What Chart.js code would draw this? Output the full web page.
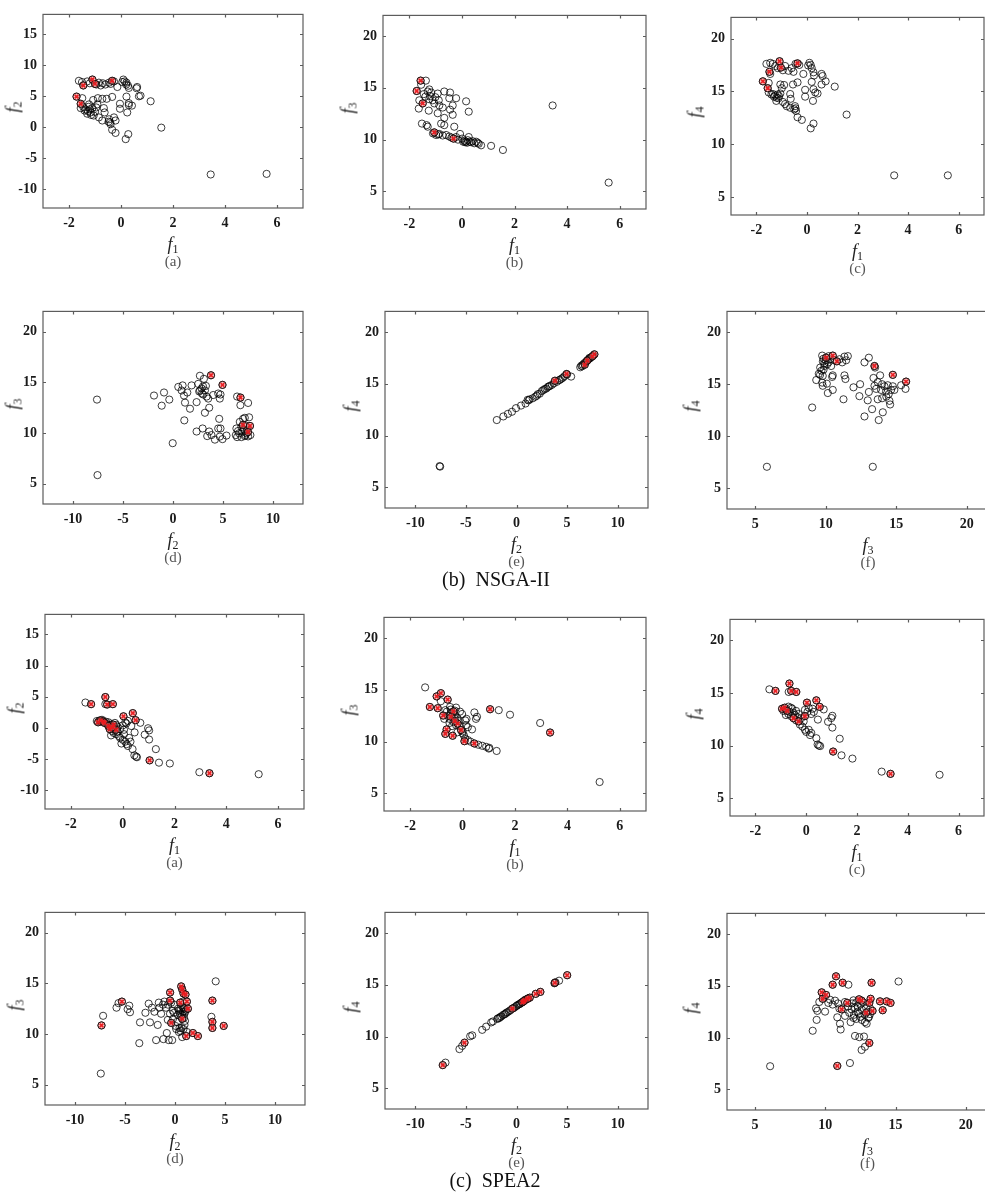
<!DOCTYPE html>
<html>
<head>
<meta charset="utf-8">
<script src="https://cdn.jsdelivr.net/npm/chart.js@4.4.1/dist/chart.umd.min.js"></script>
<style>
  body { margin: 0; background: #fff; width: 985px; height: 1197px; overflow: hidden; position: relative; }
  canvas { position: absolute; }
  .lab { position: absolute; transform: translate(-50%, -50%); white-space: nowrap; font-family: 'Liberation Serif', serif; }
  .ax { font-size: 18px; font-style: italic; color: #222; }
  .ax sub { font-style: normal; font-size: 12px; vertical-align: -3px; }
  .rot { transform: translate(-50%, -50%) rotate(-90deg); }
  .cap { font-size: 15px; color: #555; }
  .big { font-size: 20px; color: #111; }
</style>
</head>
<body>
<script>
// tick labels
const ticksF1 = [-2, 0, 2, 4, 6];
const ticksF2x = [-10, -5, 0, 5, 10];
const ticksF2y = [-10, -5, 0, 5, 10, 15];
const ticksF34 = [5, 10, 15, 20];

// NSGA-II
const nsga_f1f2 = [[-1.62,7.5],[-1.45,6.75],[-1.3,7.4],[-1.1,7.7],[-1.0,7.0],[-0.85,7.2],[-0.78,6.75],[-0.6,6.9],[-0.46,7.2],[-0.34,7.5],[-0.27,7.4],[-0.14,6.5],[0.09,7.7],[0.14,7.4],[0.21,7.2],[0.27,6.7],[0.3,6.35],[0.62,6.5],[0.6,6.3],[0.69,5.0],[0.75,5.1],[-1.5,7.3],[-1.2,7.1],[-0.95,6.9],[-0.7,7.1],[-0.4,7.0],[0.05,7.3],[0.2,6.9],
  [-1.71,4.95],[-1.49,4.7],[-1.55,3.8],[-1.55,3.1],[-1.36,2.9],[-1.27,2.6],[-1.17,2.4],[-1.1,3.1],[-1.23,3.7],[-1.07,4.4],[-0.89,4.7],[-0.72,4.6],[-0.55,4.6],[-0.34,4.9],[-0.91,3.7],[-0.66,3.1],[-0.63,2.4],[-0.85,1.6],[-0.72,1.1],[-0.46,1.3],[-0.42,0.8],[-0.4,0.5],[-0.34,-0.4],[-0.21,-0.9],[-0.27,1.6],[-0.21,1.1],[-0.04,3.8],[-0.04,3.0],[0.21,4.95],[0.3,3.9],[0.24,2.4],[0.3,3.6],[0.42,3.5],[0.18,-1.9],[0.28,-1.1],[1.14,4.2],[1.55,-0.05],[3.45,-7.6],[5.6,-7.5],
  [-1.4,2.7],[-1.3,2.2],[-1.2,2.9],[-1.15,2.0],[-1.0,2.5],[-1.05,1.9],[-1.25,3.3],[-0.95,3.2],[-0.48,0.9],[-1.45,3.3]];
const nsga_f1f2_red = [[-1.71,4.95],[-1.55,3.8],[-1.45,6.75],[-1.1,7.7],[-1.0,7.0],[-0.34,7.5]];

const nsga_f1f3 = [[-1.57,15.7],[-1.72,14.7],[-1.37,15.7],[-1.64,13.0],[-1.62,13.8],[-1.49,13.5],[-1.39,14.15],[-1.3,14.65],[-1.24,14.85],[-1.17,14.55],[-1.24,13.9],[-1.11,13.8],[-1.26,12.8],[-1.05,13.5],[-1.01,14.1],[-0.92,14.45],[-0.67,14.65],[-0.88,13.8],[-0.86,13.3],[-0.73,13.1],[-0.67,12.1],[-0.92,12.55],[-0.45,14.55],[-0.48,14.0],[-0.45,12.9],[-0.35,13.3],[-0.35,12.4],[-0.22,14.0],[0.16,13.7],[0.26,12.7],[-0.29,11.25],[-0.67,11.4],[-1.52,11.55],[-1.34,11.4],[-1.3,11.25],[-0.79,11.55],[-1.55,15.3],[-1.45,14.4],[-1.2,14.2],
  [-1.05,10.7],[-0.98,10.45],[-0.86,10.55],[-0.73,10.4],[-0.6,10.45],[-0.48,10.3],[-0.32,10.1],[-0.22,10.25],[-0.07,10.55],[0.01,10.1],[0.1,9.9],[0.16,9.8],[0.22,9.95],[0.29,9.8],[0.26,10.25],[0.41,9.85],[0.54,9.8],[0.64,9.6],[0.73,9.45],[1.11,9.4],[1.56,9.0],[3.45,13.3],[5.58,5.85],
  [-1.1,10.6],[-0.9,10.5],[-0.4,10.2],[0.05,9.8],[0.12,9.75],[0.2,9.7],[0.35,9.75],[0.6,9.7],[-0.15,10.0],[0.47,9.65]];
const nsga_f1f3_red = [[-1.57,15.7],[-1.72,14.7],[-1.49,13.5],[-1.05,10.7],[-0.32,10.1]];

const nsga_f1f4 = [[-1.6,17.6],[-1.45,17.7],[-1.25,17.4],[-1.08,17.85],[-1.03,17.25],[-1.45,16.65],[-1.48,16.85],[-0.86,17.4],[-0.73,16.95],[-0.6,17.2],[-0.53,16.85],[-0.37,17.65],[-0.3,17.5],[-0.14,16.65],[0.1,17.7],[0.15,17.5],[0.19,17.2],[0.26,16.8],[0.28,16.5],[0.58,16.65],[0.62,16.45],[0.74,15.95],[-1.35,17.6],[-1.15,17.2],[-0.95,17.0],[-0.45,17.6],[0.05,17.45],
  [-1.74,15.95],[-1.51,15.8],[-1.55,15.3],[-1.51,14.9],[-1.34,14.75],[-1.25,14.6],[-1.16,14.7],[-1.12,14.35],[-1.21,14.1],[-1.05,14.8],[-0.99,15.3],[-1.05,15.65],[-0.9,15.6],[-0.66,14.75],[-0.64,14.3],[-0.86,13.8],[-0.66,13.45],[-0.47,13.6],[-0.43,13.15],[-0.37,12.55],[-0.2,12.3],[-0.37,15.85],[-0.55,15.65],[-0.07,15.15],[-0.07,14.5],[0.19,15.9],[0.26,15.2],[0.33,14.9],[0.24,14.1],[0.42,14.8],[0.58,15.65],[0.15,11.5],[0.26,11.95],[1.1,15.45],[1.57,12.8],[3.45,7.05],[5.57,7.05],
  [-1.3,14.5],[-1.2,14.4],[-1.1,14.55],[-0.95,14.0],[-0.8,13.6],[-0.45,13.4],[-0.5,13.3],[-1.4,14.7]];
const nsga_f1f4_red = [[-1.74,15.95],[-1.55,15.3],[-1.48,16.85],[-1.08,17.85],[-1.03,17.25],[-0.37,17.65]];

const nsga_f2f3 = [[-7.6,13.3],[-7.55,5.85],[-1.9,13.7],[-1.13,12.7],[-0.9,14.0],[-0.37,13.3],[-0.03,9.0],[0.53,14.55],[0.96,14.7],[1.1,13.7],[0.86,14.2],[1.43,14.0],[1.2,13.0],[1.13,11.25],[1.7,12.4],[1.86,14.7],[2.36,13.05],[2.52,14.85],[2.69,15.65],[2.62,14.1],[2.86,14.4],[3.02,13.8],[3.19,14.2],[3.29,14.65],[3.09,15.35],[3.36,13.6],[3.52,13.4],[3.62,12.5],[3.19,12.0],[3.8,15.7],[4.02,13.75],[4.52,13.9],[4.75,13.8],[4.95,14.75],[4.68,13.4],[2.36,10.15],[2.96,10.45],[3.62,10.15],[3.85,9.8],[3.42,9.7],[4.19,9.35],[4.52,10.45],[4.75,10.45],[4.62,11.4],[4.68,9.65],[4.95,9.4],[5.35,9.75],[6.41,13.6],[6.75,13.5],[6.74,12.75],[7.51,12.97],[6.34,10.45],[6.28,9.8],[6.41,9.6],[6.68,11.1],[6.84,10.6],[6.94,10.15],[7.01,11.4],[7.18,11.5],[7.28,10.75],[7.34,9.98],[7.51,9.67],[7.61,11.55],[7.7,10.7],[7.74,9.8],[6.61,9.98],[6.84,9.6],[7.18,9.7],[7.41,10.35],[7.0,10.8],[7.5,10.1],[6.5,10.2],[7.1,10.3],[7.25,9.8],[2.7,14.2],[2.9,13.9],[3.0,14.6]];
const nsga_f2f3_red = [[4.95,14.75],[3.8,15.7],[6.75,13.5],[7.7,10.7],[7.0,10.8],[7.5,10.1]];

const nsga_f2f4 = [[-7.6,7.05],[-7.55,7.0],[-1.95,11.5],[-1.3,11.85],[-0.85,12.1],[-0.45,12.3],[-0.05,12.65],[0.45,12.9],[0.9,13.1],[1.1,13.45],[1.3,13.5],[1.6,13.6],[1.85,13.75],[2.1,14.0],[2.3,14.05],[2.5,14.3],[2.65,14.4],[2.8,14.5],[2.95,14.55],[3.1,14.7],[3.3,14.8],[3.5,14.9],[3.7,15.05],[3.8,15.3],[4.0,15.2],[4.2,15.35],[4.45,15.5],[4.6,15.6],[4.75,15.75],[4.95,15.95],[5.0,15.9],[5.4,15.7],[6.3,16.6],[6.4,16.75],[6.55,16.85],[6.75,16.85],[6.7,17.0],[6.85,17.1],[6.95,17.2],[7.0,17.25],[7.1,17.35],[7.25,17.45],[7.35,17.55],[7.5,17.65],[7.6,17.75],[7.7,17.85],[6.5,16.7],[7.2,17.5],[1.2,13.4],[2.0,13.85],[3.2,14.75],[4.3,15.4]];
const nsga_f2f4_red = [[4.95,15.95],[3.8,15.3],[6.75,16.85],[7.7,17.85],[7.0,17.25],[7.5,17.65]];

const nsga_f3f4 = [[5.83,7.06],[9.04,12.76],[13.34,7.06],
  [9.75,17.75],[9.84,17.45],[10.03,17.55],[10.22,17.7],[10.5,17.75],[10.79,17.2],[10.98,17.4],[11.17,17.1],[11.33,17.65],[11.57,17.7],[11.45,17.3],[9.61,16.6],[9.91,16.75],[10.39,16.75],[9.51,16.0],[9.79,15.8],[9.33,15.4],[9.75,15.15],[9.79,14.85],[10.08,15.05],[10.15,14.15],[10.5,14.45],[10.46,15.7],[10.5,15.85],[11.33,15.85],[11.4,15.5],[11.26,13.55],
  [9.8,17.2],[9.9,17.0],[10.0,17.3],[10.1,16.9],[10.3,17.4],[10.6,17.3],[9.7,16.3],[9.6,15.9],[9.85,16.4],[10.2,17.1],
  [11.97,14.7],[12.44,15.0],[12.39,13.85],[12.75,17.1],[13.06,17.55],[12.98,13.45],[13.06,14.25],[12.75,11.9],[13.29,12.6],[13.46,16.75],[13.39,15.6],[13.46,14.85],[13.58,14.55],[13.69,15.2],[13.69,13.55],[13.76,11.55],[13.86,15.85],[14.0,15.0],[13.93,14.45],[14.0,13.65],[14.05,12.3],[14.17,14.8],[14.28,14.3],[14.4,14.9],[14.47,14.05],[14.52,13.4],[14.64,14.45],[14.57,13.05],[14.76,15.9],[14.76,14.8],[14.87,14.45],[15.35,14.9],[15.7,15.25],[15.66,14.55],[13.5,16.6],[14.3,13.8]];
const nsga_f3f4_red = [[10.03,17.55],[10.5,17.75],[10.79,17.2],[13.46,16.75],[14.76,15.9],[15.7,15.25]];

// SPEA2
const spea_f1f2 = [[-1.44,4.07],[-1.22,3.81],[-0.67,4.95],[-0.67,3.81],[-0.6,3.75],[-0.38,3.81],[0.03,1.86],[0.39,2.37],[0.5,1.24],[0.68,0.82],[0.33,0.31],[0.2,1.13],[0.14,0.72],[0.46,-0.72],[0.85,-1.08],[0.98,-0.05],[1.02,-0.4],[1.02,-1.86],[1.28,-3.4],[1.04,-5.2],[1.4,-5.57],[1.82,-5.7],[2.96,-7.1],[3.35,-7.27],[5.25,-7.42],
  [-1.0,1.1],[-0.95,0.9],[-0.9,1.2],[-0.85,1.0],[-0.8,1.3],[-0.75,1.1],[-0.7,0.8],[-0.65,1.0],[-0.6,0.6],[-0.55,0.3],[-0.55,0.9],[-0.5,0.5],[-0.5,-0.2],[-0.45,0.1],[-0.4,0.6],[-0.4,-0.5],[-0.35,0.2],[-0.35,-0.8],[-0.3,-0.3],[-0.25,0.5],[-0.25,-1.0],[-0.2,-0.6],[-0.2,0.2],[-0.15,-1.3],[-0.1,-0.2],[-0.1,-1.6],[-0.05,-2.5],[0.0,-1.9],[0.05,-1.0],[0.1,-2.2],[0.15,-2.6],[0.2,-2.9],[0.25,-1.6],[0.3,-2.2],[0.38,-3.4],[0.45,-4.4],[0.52,-4.6],[0.55,-4.7],[0.1,0.9],[0.0,0.4],[0.05,-0.3],[-0.3,0.8],[-0.45,-1.2]];
const spea_f1f2_red = [[-1.22,3.81],[-0.67,4.95],[-0.6,3.75],[-0.38,3.81],[0.03,1.86],[0.39,2.37],[0.5,1.24],[1.04,-5.2],[3.35,-7.27],[-0.95,0.9],[-0.85,1.2],[-0.75,1.0],[-0.7,0.8],[-0.55,0.3],[-0.5,-0.2],[-0.35,0.5],[-0.25,-0.3],[-0.4,0.1]];

const spea_f1f3 = [[-1.43,15.24],[-1.25,13.35],[-0.99,14.37],[-0.83,14.68],[-0.83,13.9],[-0.95,13.23],[-0.57,14.06],[-0.74,12.52],[-0.66,13.04],[-0.61,11.18],[-0.66,10.75],[-0.38,10.57],[-0.35,12.92],[-0.28,12.2],[-0.19,11.74],[-0.06,11.12],[0.07,10.04],[0.45,9.82],[0.45,12.82],[0.51,12.2],[0.55,12.4],[0.36,11.18],[0.1,12.05],[0.13,11.59],[-0.02,12.67],[-0.25,13.29],[-0.48,13.35],[1.02,9.4],[1.0,9.33],[1.3,9.1],[1.05,13.13],[1.38,13.04],[1.81,12.6],[2.96,11.8],[3.34,10.88],[5.23,6.1],
  [-0.6,12.9],[-0.55,12.5],[-0.5,12.2],[-0.45,12.8],[-0.4,12.4],[-0.35,11.9],[-0.3,12.6],[-0.25,11.6],[-0.2,12.3],[-0.15,12.0],[-0.1,11.5],[-0.5,11.8],[-0.4,11.5],[-0.3,13.0],[-0.7,12.2],[-0.1,12.9],[0.0,11.0],[0.05,10.6],[0.1,10.3],[0.2,10.15],[0.3,10.0],[0.6,9.7],[0.75,9.6],[0.9,9.5],[0.0,10.8],[0.2,11.4],[0.15,12.2],[-0.45,13.1],[-0.2,10.9]];
const spea_f1f3_red = [[-1.25,13.35],[-0.99,14.37],[-0.83,14.68],[-0.95,13.23],[-0.57,14.06],[-0.74,12.52],[-0.61,11.18],[-0.66,10.75],[-0.38,10.57],[-0.35,12.92],[-0.19,11.74],[-0.06,11.12],[0.07,10.04],[0.45,9.82],[1.05,13.13],[3.34,10.88],[-0.45,12.4],[-0.3,12.0]];

const spea_f1f4 = [[-1.45,15.35],[-1.21,15.2],[-0.66,15.9],[-0.69,15.1],[-0.59,15.2],[-0.39,15.1],[0.03,14.08],[0.4,14.3],[0.53,13.68],[0.69,13.44],[0.46,12.47],[0.86,12.26],[1.03,12.83],[0.99,12.62],[1.03,11.71],[1.32,10.65],[1.06,9.43],[1.39,9.07],[1.82,8.76],[2.97,7.52],[3.32,7.31],[5.25,7.22],
  [-0.95,13.5],[-0.9,13.3],[-0.85,13.6],[-0.8,13.4],[-0.75,13.3],[-0.7,13.7],[-0.7,13.0],[-0.65,13.2],[-0.6,12.8],[-0.55,13.5],[-0.5,12.6],[-0.5,13.1],[-0.45,12.9],[-0.4,12.4],[-0.4,13.3],[-0.35,12.7],[-0.3,12.3],[-0.3,13.0],[-0.25,12.0],[-0.2,12.6],[-0.15,11.8],[-0.1,12.3],[-0.05,12.8],[-0.05,11.5],[0.0,11.3],[0.05,13.2],[0.1,11.5],[0.1,13.6],[0.15,11.0],[0.2,11.2],[0.2,13.0],[0.25,13.5],[-0.05,13.4],[0.4,10.7],[0.45,10.1],[0.5,10.0],[0.55,9.95],[-0.6,13.6],[-0.8,12.9],[0.3,13.2]];
const spea_f1f4_red = [[-1.21,15.2],[-0.66,15.9],[-0.59,15.2],[-0.39,15.1],[0.03,14.08],[0.4,14.3],[0.53,13.68],[1.06,9.43],[3.32,7.31],[-0.95,13.5],[-0.85,13.6],[-0.75,13.3],[-0.5,12.6],[-0.3,12.3],[-0.05,12.8]];

const spea_f2f3 = [[-7.42,6.1],[-7.35,10.85],[-7.19,11.8],[-5.85,12.6],[-5.65,13.05],[-5.31,13.2],[-4.74,12.45],[-4.57,12.8],[-4.5,12.15],[-3.57,9.1],[-3.5,11.15],[-2.96,12.1],[-2.63,13.0],[-2.5,11.15],[-2.3,12.6],[-2.06,12.2],[-1.89,9.4],[-1.73,10.9],[-1.62,13.1],[-1.56,12.6],[-1.39,12.0],[-1.16,9.5],[-1.06,13.2],[-0.82,10.1],[-0.72,11.4],[-0.62,9.4],[-0.49,14.1],[-0.49,13.3],[-0.38,13.1],[-0.38,11.1],[-0.28,9.4],[-0.22,12.3],[-0.05,12.9],[0.05,10.8],[0.12,10.5],[0.28,11.9],[0.39,10.2],[0.45,10.6],[0.52,13.1],[0.62,14.7],[0.72,14.4],[0.85,14.0],[0.72,9.7],[0.79,13.2],[0.85,12.6],[0.95,12.0],[1.05,13.9],[1.19,13.2],[1.29,12.5],[1.12,9.8],[0.72,11.5],[0.85,10.5],[0.95,10.9],[1.79,10.1],[2.29,9.8],[3.74,13.3],[3.64,11.7],[3.74,11.2],[3.74,10.6],[4.07,15.2],[4.87,10.8],
  [0.5,12.0],[0.6,12.4],[0.7,11.9],[0.8,12.2],[0.9,12.5],[1.0,12.2],[0.6,11.7],[0.75,12.7],[0.9,11.6],[1.1,12.4],[0.4,12.3],[0.3,12.5],[-0.1,12.1],[-0.5,12.0],[-0.9,12.6],[-1.2,12.9],[-0.7,12.9],[-0.2,11.5],[0.2,11.2],[1.0,11.3],[0.55,10.3],[0.65,10.6],[1.2,10.2]];
const spea_f2f3_red = [[-7.35,10.85],[-5.31,13.2],[-0.49,14.1],[-0.49,13.3],[-0.38,11.1],[0.52,13.1],[0.62,14.7],[0.72,14.4],[0.85,14.0],[1.05,13.9],[1.19,13.2],[1.29,12.5],[1.12,9.8],[0.72,11.5],[1.79,10.1],[2.29,9.8],[3.74,13.3],[3.74,11.2],[3.74,10.6],[4.87,10.8]];

const spea_f2f4 = [[-7.29,7.24],[-7.02,7.48],[-5.64,8.79],[-5.37,9.1],[-5.14,9.41],[-4.58,10.03],[-4.38,10.12],[-3.39,10.65],[-3.0,10.96],[-2.5,11.37],[-2.33,11.46],[-1.83,11.77],[-1.6,11.89],[-1.34,12.08],[-1.01,12.3],[-0.74,12.45],[-0.41,12.7],[-0.18,12.83],[0.05,13.01],[0.31,13.14],[0.58,13.32],[0.81,13.51],[1.04,13.63],[1.31,13.76],[1.9,14.13],[2.36,14.32],[3.79,15.19],[3.75,15.15],[4.21,15.4],[5.01,15.93],
  [-1.9,11.7],[-1.7,11.8],[-1.5,11.95],[-1.2,12.15],[-0.9,12.35],[-0.6,12.55],[-0.3,12.75],[0.0,12.95],[0.2,13.1],[0.4,13.2],[0.7,13.4],[0.9,13.55],[1.15,13.7],[-1.1,12.2],[0.5,13.3],[3.85,15.25]];
const spea_f2f4_red = [[-7.29,7.24],[-5.14,9.41],[-0.41,12.7],[0.58,13.32],[0.81,13.51],[1.31,13.76],[1.9,14.13],[2.36,14.32],[3.79,15.19],[5.01,15.93],[0.7,13.4],[1.1,13.65]];

const spea_f3f4 = [[6.07,7.23],[9.1,10.66],[9.38,11.71],[9.34,12.82],[9.43,12.58],[9.57,13.44],[9.74,14.37],[9.81,13.75],[10.05,14.12],[9.98,12.51],[10.21,13.35],[10.33,13.66],[10.52,13.19],[10.69,13.57],[10.52,15.11],[10.76,15.92],[10.85,11.96],[10.85,7.26],[11.04,11.34],[11.09,10.78],[11.16,12.73],[11.23,15.3],[11.4,13.44],[11.56,13.35],[11.64,15.11],[11.75,7.54],[11.87,12.73],[11.8,11.49],[12.04,12.2],[12.11,10.16],[12.42,10.04],[12.58,8.8],[12.75,10.1],[12.82,9.11],[12.82,11.49],[12.94,11.34],[13.13,9.48],[12.58,13.57],[13.13,13.35],[13.22,13.75],[13.29,15.3],[13.36,12.58],[13.18,12.27],[13.06,11.9],[13.89,13.5],[14.08,12.64],[14.36,13.5],[14.64,13.35],[15.21,15.42],
  [11.9,13.3],[12.0,13.6],[12.1,12.9],[12.2,13.4],[12.3,13.0],[12.3,12.5],[12.4,13.7],[12.5,13.2],[12.5,12.0],[12.6,12.7],[12.7,13.4],[12.8,12.2],[12.9,12.9],[13.0,12.5],[13.1,12.0],[12.2,11.8],[11.7,12.4],[11.6,13.0],[12.0,11.9],[12.6,11.7],[13.2,12.8],[11.4,12.1],[10.9,13.3],[11.0,12.8],[12.4,12.3]];
const spea_f3f4_red = [[9.74,14.37],[9.81,13.75],[10.05,14.12],[10.52,15.11],[10.76,15.92],[10.85,7.26],[11.16,12.73],[11.23,15.3],[11.56,13.35],[13.13,9.48],[12.58,13.57],[13.13,13.35],[13.22,13.75],[13.29,15.3],[13.36,12.58],[13.89,13.5],[14.08,12.64],[14.36,13.5],[14.64,13.35],[12.4,13.7],[12.9,12.4]];

// panel layout: box = [left, top, right, bottom] of the plot frame in page pixels
const panels = [
  { box: [43, 6, 303, 208],     xr: [-3, 7, ticksF1],  yr: [-13, 18.2, ticksF2y], pts: nsga_f1f2, red: nsga_f1f2_red, xs: '1', ys: '2', cap: '(a)', yo: 29 },
  { box: [383, 7, 646, 209],    xr: [-3, 7, ticksF1],  yr: [3.3, 22, ticksF34],  pts: nsga_f1f3, red: nsga_f1f3_red, xs: '1', ys: '3', cap: '(b)', yo: 34 },
  { box: [731, 9, 984, 215],    xr: [-3, 7, ticksF1],  yr: [3.3, 22, ticksF34],  pts: nsga_f1f4, red: nsga_f1f4_red, xs: '1', ys: '4', cap: '(c)', yo: 35 },
  { box: [43, 303, 303, 504],   xr: [-13, 13, ticksF2x], yr: [3, 22, ticksF34],  pts: nsga_f2f3, red: nsga_f2f3_red, xs: '2', ys: '3', cap: '(d)', yo: 29 },
  { box: [385, 303, 648, 508],  xr: [-13, 13, ticksF2x], yr: [3, 22, ticksF34],  pts: nsga_f2f4, red: nsga_f2f4_red, xs: '2', ys: '4', cap: '(e)', yo: 33 },
  { box: [727, 303, 1009, 509], xr: [3, 23, ticksF34],  yr: [3, 22, ticksF34],   pts: nsga_f3f4, red: nsga_f3f4_red, xs: '3', ys: '4', cap: '(f)', yo: 35 },
  { box: [45, 606, 304, 809],   xr: [-3, 7, ticksF1],  yr: [-13, 18.2, ticksF2y], pts: spea_f1f2, red: spea_f1f2_red, xs: '1', ys: '2', cap: '(a)', yo: 29 },
  { box: [384, 609, 646, 811],  xr: [-3, 7, ticksF1],  yr: [3.3, 22, ticksF34],  pts: spea_f1f3, red: spea_f1f3_red, xs: '1', ys: '3', cap: '(b)', yo: 34 },
  { box: [730, 611, 984, 816],  xr: [-3, 7, ticksF1],  yr: [3.3, 22, ticksF34],  pts: spea_f1f4, red: spea_f1f4_red, xs: '1', ys: '4', cap: '(c)', yo: 35 },
  { box: [45, 904, 305, 1105],  xr: [-13, 13, ticksF2x], yr: [3, 22, ticksF34],  pts: spea_f2f3, red: spea_f2f3_red, xs: '2', ys: '3', cap: '(d)', yo: 29 },
  { box: [385, 904, 648, 1109], xr: [-13, 13, ticksF2x], yr: [3, 22, ticksF34],  pts: spea_f2f4, red: spea_f2f4_red, xs: '2', ys: '4', cap: '(e)', yo: 33 },
  { box: [727, 905, 1008, 1110], xr: [3, 23, ticksF34], yr: [3, 22, ticksF34],   pts: spea_f3f4, red: spea_f3f4_red, xs: '3', ys: '4', cap: '(f)', yo: 35 }
];

const PAD_L = 45, PAD_T = 6, PAD_R = 6, PAD_B = 30;
const tickFont = { family: "'Liberation Serif', serif", size: 14, weight: 'bold' };

// box frame with inward ticks on all four sides
const framePlugin = {
  id: 'frame',
  afterDatasetsDraw(chart) {
    const { ctx, chartArea: a, scales } = chart;
    ctx.save();
    ctx.strokeStyle = '#5c5c5c';
    ctx.lineWidth = 1.2;
    ctx.strokeRect(a.left, a.top, a.right - a.left, a.bottom - a.top);
    ctx.beginPath();
    scales.x.ticks.forEach(t => {
      const px = Math.round(scales.x.getPixelForValue(t.value)) + 0.5;
      ctx.moveTo(px, a.bottom); ctx.lineTo(px, a.bottom - 3);
      ctx.moveTo(px, a.top); ctx.lineTo(px, a.top + 3);
    });
    scales.y.ticks.forEach(t => {
      const py = Math.round(scales.y.getPixelForValue(t.value)) + 0.5;
      ctx.moveTo(a.left, py); ctx.lineTo(a.left + 3, py);
      ctx.moveTo(a.right, py); ctx.lineTo(a.right - 3, py);
    });
    ctx.stroke();
    ctx.restore();
  }
};

function addLabel(html, x, y, cls) {
  const d = document.createElement('div');
  d.className = 'lab ' + cls;
  d.innerHTML = html;
  d.style.left = x + 'px';
  d.style.top = y + 'px';
  document.body.appendChild(d);
}

const toXY = arr => arr.map(([x, y]) => ({ x, y }));

panels.forEach(p => {
  const [l, t, r, b] = p.box;
  const cv = document.createElement('canvas');
  cv.width = r - l + PAD_L + PAD_R;
  cv.height = b - t + PAD_T + PAD_B;
  cv.style.left = (l - PAD_L) + 'px';
  cv.style.top = (t - PAD_T) + 'px';
  document.body.appendChild(cv);

  const axis = (range, isX) => ({
    type: 'linear',
    min: range[0],
    max: range[1],
    afterBuildTicks: s => { s.ticks = range[2].map(v => ({ value: v })); },
    afterFit: s => { if (isX) s.height = PAD_B; else s.width = PAD_L; },
    grid: { display: false, drawTicks: false },
    border: { display: false },
    ticks: { padding: isX ? 7 : 6, font: tickFont, color: '#1a1a1a' }
  });

  new Chart(cv, {
    type: 'scatter',
    data: {
      datasets: [
        { data: toXY(p.red), pointStyle: 'crossRot', pointRadius: 2.6, borderColor: 'rgba(235,25,30,0.95)', borderWidth: 1.7, backgroundColor: 'transparent' },
        { data: toXY(p.red), pointStyle: 'circle', pointRadius: 3.6, borderColor: 'rgba(20,0,0,0.85)', borderWidth: 0.9, backgroundColor: 'rgba(240,120,120,0.45)' },
        { data: toXY(p.pts), pointStyle: 'circle', pointRadius: 3.6, borderColor: 'rgba(0,0,0,0.85)', borderWidth: 0.9, backgroundColor: 'transparent' }
      ]
    },
    options: {
      responsive: false,
      animation: false,
      events: [],
      layout: { padding: { left: 0, top: PAD_T, right: PAD_R, bottom: 0 } },
      plugins: { legend: { display: false }, tooltip: { enabled: false } },
      scales: { x: axis(p.xr, true), y: axis(p.yr, false) }
    },
    plugins: [framePlugin]
  });

  const cx = (l + r) / 2;
  addLabel('f<sub>' + p.xs + '</sub>', cx, b + 37, 'ax');
  addLabel(p.cap, cx, b + 53, 'cap');
  addLabel('f<sub>' + p.ys + '</sub>', l - p.yo, (t + b) / 2, 'ax rot');
});

addLabel('(b)&nbsp;&nbsp;NSGA-II', 496, 579, 'big');
addLabel('(c)&nbsp;&nbsp;SPEA2', 495, 1180, 'big');
</script>
</body>
</html>
